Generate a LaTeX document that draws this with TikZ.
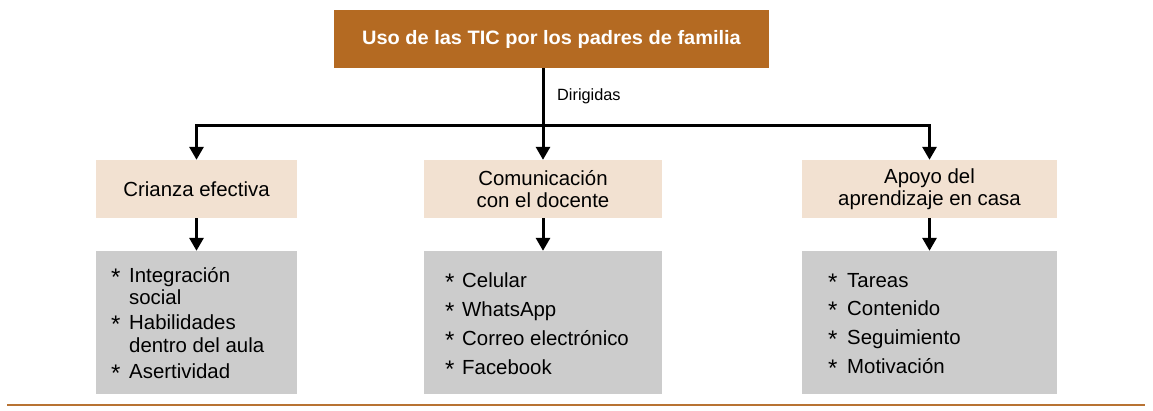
\documentclass[tikz,border=0pt]{standalone}
\usepackage{fontspec}
\setmainfont{Liberation Sans}[FakeStretch=1.0]
\newfontfamily\titlefam{Liberation Sans}[FakeStretch=1.03]
\usetikzlibrary{arrows.meta}
\definecolor{titlebrown}{HTML}{B46A22}
\definecolor{catfill}{HTML}{F2E1D1}
\definecolor{listgray}{HTML}{CCCCCC}
\definecolor{rulebrown}{HTML}{B87333}
\begin{document}
\begin{tikzpicture}[x=1pt,y=-1pt,
  titlebox/.style={fill=titlebrown, text=white, minimum width=435pt, minimum height=58pt, inner sep=0pt, font=\titlefam\bfseries\fontsize{19.4}{22}\selectfont},
  catbox/.style={fill=catfill, minimum height=58pt, inner sep=0pt, align=center, font=\fontsize{20.4}{22}\selectfont},
  listbox/.style={fill=listgray, minimum height=143pt, inner sep=0pt},
  itemtext/.style={anchor=base west, inner sep=0pt, font=\fontsize{20.4}{22}\selectfont},
  startext/.style={anchor=base west, inner sep=0pt, font=\fontsize{24}{22}\selectfont},
  lbltext/.style={anchor=base west, inner sep=0pt, font=\fontsize{16.3}{18}\selectfont},
  conn/.style={line width=3pt, -{Triangle[length=13pt,width=14pt]}}
]
\useasboundingbox (0,0) rectangle (1153,410);

\node[titlebox] (title) at (551.5,39) {Uso de las TIC por los padres de familia};

\node[catbox, minimum width=201pt] (cl) at (196.5,189) {Crianza efectiva};
\node[catbox, minimum width=238pt] (cm) at (543,189) {Comunicación\\con el docente};
\node[catbox, minimum width=255pt] (cr) at (929.5,189) {Apoyo del\\aprendizaje en casa};

\node[listbox, minimum width=201pt] (gl) at (196.5,322.5) {};
\node[listbox, minimum width=238pt] (gm) at (543,322.5) {};
\node[listbox, minimum width=255pt] (gr) at (929.5,322.5) {};

\coordinate (hub) at (543,125);
\draw[conn] (title.south -| cm.north) -- (cm.north);
\draw[conn] (hub) -| (cl.north);
\draw[conn] (hub) -| (cr.north);
\node[lbltext] (dir) at (557,100) {Dirigidas};

\draw[conn] (cl.south) -- (gl.north);
\draw[conn] (cm.south) -- (gm.north);
\draw[conn] (cr.south) -- (gr.north);

% left list
\node[startext] (l1s) at (111,285) {*};
\node[itemtext] (l1a) at (129,282) {Integración};
\node[itemtext] (l1b) at (129,304) {social};
\node[startext] (l2s) at (111,332) {*};
\node[itemtext] (l2a) at (129,329) {Habilidades};
\node[itemtext] (l2b) at (129,352) {dentro del aula};
\node[startext] (l3s) at (111,381) {*};
\node[itemtext] (l3a) at (129,378) {Asertividad};

% middle list
\node[startext] (m1s) at (445,290) {*};
\node[itemtext] (m1a) at (462,287) {Celular};
\node[startext] (m2s) at (445,319) {*};
\node[itemtext] (m2a) at (462,316) {WhatsApp};
\node[startext] (m3s) at (445,348) {*};
\node[itemtext] (m3a) at (462,345) {Correo electrónico};
\node[startext] (m4s) at (445,377) {*};
\node[itemtext] (m4a) at (462,374) {Facebook};

% right list
\node[startext] (r1s) at (828,290) {*};
\node[itemtext] (r1a) at (847,287) {Tareas};
\node[startext] (r2s) at (828,318) {*};
\node[itemtext] (r2a) at (847,315) {Contenido};
\node[startext] (r3s) at (828,347) {*};
\node[itemtext] (r3a) at (847,344) {Seguimiento};
\node[startext] (r4s) at (828,376) {*};
\node[itemtext] (r4a) at (847,373) {Motivación};

\draw[rulebrown, line width=1.5pt] (7,405) -- (1145,405);
\end{tikzpicture}
\end{document}
